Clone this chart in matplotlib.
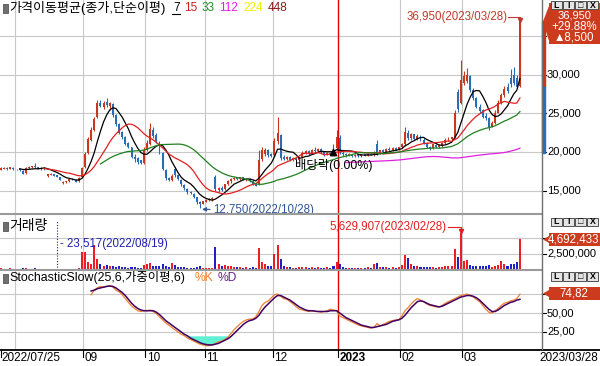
import numpy as np
import pandas as pd
import matplotlib
matplotlib.use("Agg")
import matplotlib.pyplot as plt
from matplotlib.patches import Rectangle, Polygon
from matplotlib.transforms import Affine2D, blended_transform_factory

plt.rcParams['font.family'] = ['Liberation Sans', 'Noto Sans CJK KR', 'DejaVu Sans']

# daily prices in units of 100 won, 2022/07/25 .. 2023/03/28 (168 trading days)
opens = [177, 178.5, 179.5, 178, 179.5, 177.5, 178, 175.5, 172.5, 179,
         180, 182, 180, 178.5, 179, 168.5, 170.5, 171, 169.5, 167,
         160, 160.5, 162, 165.5, 164, 162, 167, 180, 199, 216,
         229, 245, 264, 259, 265, 260, 262, 248, 236, 226,
         220, 212, 206, 194, 192, 189, 186, 203, 211, 229,
         222, 213, 199, 177, 166, 163, 178, 170, 164, 157,
         152, 148, 146, 141, 135, 133, 135.5, 137.5, 139, 167,
         151, 153, 152, 158, 162, 165, 167, 165, 167, 164,
         165, 162, 158, 158, 191, 197, 203, 197, 196, 214,
         222, 193, 191, 194, 190, 192, 190, 193, 199, 201,
         198, 203, 201, 204, 200, 197, 199, 207, 205, 218,
         199, 197, 196, 197, 195, 196, 195, 197, 195, 198,
         197, 210, 198, 202, 200, 204, 202, 205, 203, 206,
         210, 225, 218, 223, 217, 221, 216, 212, 207, 205,
         209, 206, 208, 212, 216, 217, 219, 278, 263, 290,
         292, 299, 280, 270, 258, 254, 247, 244, 233, 238,
         251, 264, 274, 285, 296, 300, 296, 286]
highs = [180, 180.5, 180, 180.5, 180, 178.5, 178.5, 176, 180.5, 181.5,
         182, 185.5, 181, 180.5, 179.5, 172, 172.5, 171.5, 170.5, 167.5,
         162, 162.5, 165.5, 166.5, 164.5, 167, 180, 200, 220, 232,
         246, 267, 267, 266, 270, 265, 263, 249, 238, 227,
         221, 213, 207, 197, 193, 190, 206, 215, 238, 232,
         225, 214, 200, 178, 168, 171, 180, 171, 165, 158,
         153, 150, 147, 142, 136, 137, 139, 140, 141, 170,
         155, 156, 159, 163, 166, 168, 168, 168, 168, 166,
         166, 163, 160, 203, 206, 205, 204, 199, 218, 245,
         224, 196, 195, 195, 193, 194, 194, 201, 203, 202,
         204, 206, 205, 205, 201, 200, 200, 210, 228, 222,
         201, 199, 199, 198, 197, 197.5, 198, 198, 199, 199,
         201, 215, 203, 204, 205, 206, 206, 206, 207, 212,
         232, 229, 225, 224, 223, 222, 218, 213, 208, 211,
         210, 209, 213, 218, 219, 220, 254, 282, 319, 305,
         309, 300, 283, 272, 262, 256, 251, 246, 240, 254,
         268, 277, 286, 290, 308, 310, 300, 369.5]
lows = [176, 177.5, 177, 177.5, 177, 176.5, 175.5, 171, 172, 178.5,
        179, 179.5, 177.5, 177, 176.5, 167.5, 169.5, 168.5, 167, 163.5,
        158.5, 159.5, 161.5, 163.5, 160.5, 161.5, 166.5, 179, 197, 214,
        227, 244, 258, 256, 259, 255, 246, 234, 223, 217,
        209, 205, 192, 187, 185, 184.5, 185, 201, 209, 218,
        212, 198, 176, 164, 162, 162, 167, 163, 156, 151,
        146, 145, 140, 133, 127.5, 132, 135, 136.5, 137, 150,
        148, 150, 151, 157, 160, 164, 164, 164, 163, 162,
        161, 157, 155.5, 157, 188, 195, 194, 193, 195, 210,
        189, 189, 189.5, 188.5, 188, 189, 189, 192, 197, 196,
        197, 200, 200, 199, 195, 195.5, 196, 203, 203, 197,
        195, 194, 194.5, 194, 194, 194, 194, 194.5, 194.5, 195.5,
        195, 196, 197, 199, 199.5, 201, 201, 202, 202, 205,
        208, 216, 216, 215, 216, 214, 211, 205, 203, 204,
        205, 205, 207, 211, 214, 215, 218, 252, 262, 287,
        290, 278, 267, 257, 251, 244, 242, 229, 232, 236,
        250, 262, 271, 276, 284, 287, 283, 284]
closes = [179, 179.5, 178, 180, 177.5, 178, 176, 172, 179.5, 180.5,
          181.5, 180, 178, 179.5, 177, 171, 171.5, 169, 167.5, 164,
          161.5, 162, 165, 164, 161.5, 166.5, 179, 198, 217, 228,
          243, 263, 260, 264, 261, 263, 248, 236, 225, 220,
          211, 207, 194, 191, 187, 186, 203, 212, 230, 221,
          214, 200, 178, 166, 164, 169, 170, 165, 158, 153,
          148, 147, 142, 135, 132, 136, 138, 139, 140, 152,
          153, 151, 158, 162, 165, 166.5, 165, 167, 164, 165,
          162, 158, 156, 190, 202, 203, 196, 195, 214, 225,
          192, 191, 194, 190, 192, 190, 193, 199, 201, 198,
          203, 201, 204, 200, 197, 199, 198, 204, 219, 199,
          197, 196, 198, 195, 196, 195, 197, 195, 198, 196,
          200, 198, 202, 200, 204, 202, 205, 203, 206, 210,
          226, 218, 223, 217, 221, 216, 212, 207, 205, 210,
          206, 208.5, 212, 216, 217, 219, 250, 256, 294, 299,
          300, 281, 270, 259, 253, 246, 244, 232, 238, 250,
          264, 274, 282, 279, 288, 290, 284.5, 369.5]
volumes = [180000, 150000, 130000, 160000, 120000, 110000, 140000, 210000, 260000, 150000,
           140000, 190000, 100000, 90000, 80000, 130000, 90000, 60000, 23517, 90000,
           120000, 80000, 100000, 70000, 110000, 190000, 2700000, 2750000, 1100000, 900000,
           3900000, 1600000, 800000, 600000, 700000, 500000, 600000, 450000, 500000, 350000,
           400000, 300000, 450000, 350000, 300000, 300000, 700000, 800000, 1000000, 600000,
           500000, 600000, 900000, 500000, 400000, 1000000, 700000, 450000, 400000, 350000,
           300000, 250000, 300000, 400000, 500000, 300000, 250000, 200000, 300000, 3500000,
           900000, 500000, 700000, 600000, 500000, 450000, 350000, 400000, 300000, 350000,
           300000, 350000, 300000, 3300000, 1200000, 900000, 600000, 500000, 2500000, 3900000,
           1600000, 500000, 400000, 350000, 300000, 300000, 350000, 450000, 400000, 300000,
           400000, 300000, 350000, 300000, 300000, 350000, 300000, 600000, 1100000, 800000,
           350000, 300000, 250000, 200000, 250000, 200000, 250000, 300000, 350000, 300000,
           900000, 1000000, 400000, 350000, 400000, 300000, 350000, 300000, 400000, 700000,
           2200000, 1800000, 800000, 500000, 600000, 400000, 350000, 400000, 350000, 400000,
           300000, 350000, 450000, 500000, 550000, 600000, 3200000, 2000000, 5629907, 1400000,
           1500000, 700000, 600000, 550000, 600000, 550000, 500000, 700000, 450000, 600000,
           700000, 1300000, 800000, 600000, 900000, 800000, 1100000, 4692433]

# StochasticSlow %K / %D, from day index 29 on
stoch_start = 29
stoch_k = [74, 80, 83, 85, 84, 85, 86, 84, 80, 78,
           74, 69, 64, 59, 56, 53, 52, 53, 53, 54,
           52, 49, 45, 41, 37, 34, 31, 28, 25, 22,
           20, 17, 15, 13, 11, 9, 8, 7, 7, 8,
           10, 12, 13, 15, 18, 23, 28, 32, 36, 39,
           41, 42, 42, 45, 52, 60, 64, 66, 70, 74,
           75, 72, 69, 68, 65, 62, 58, 55, 54, 53,
           52, 53, 52, 52, 51, 52, 53, 55, 54, 53,
           46, 44, 42, 40, 38, 36, 34, 33, 32, 31,
           30, 31, 36, 33, 35, 37, 39, 40, 41, 41,
           46, 53, 57, 62, 66, 69, 67, 65, 62, 60,
           59, 58, 58, 60, 63, 65, 67, 69, 71, 73,
           74, 75, 73, 71, 68, 65, 60, 55, 51, 50,
           53, 56, 60, 63, 64, 66, 67, 69, 74.82]
stoch_d = [79, 80, 82, 83, 84, 85, 85.5, 85, 83, 80,
           77, 73, 68, 63, 59, 56, 54, 53, 53, 53,
           53, 51, 48, 44, 40, 37, 34, 31, 28, 25,
           22, 20, 17, 15, 13, 11, 9.5, 8.5, 8, 8,
           9, 10, 12, 14, 16, 19, 23, 27, 31, 35,
           38, 40, 41, 43, 47, 53, 58, 62, 66, 70,
           73, 73, 71, 69, 67, 64, 61, 58, 56, 54,
           53, 53, 52.5, 52, 52, 52, 52, 53, 53, 53,
           50, 47, 44, 42, 40, 38, 36, 34, 33, 32,
           31, 31, 32, 33, 34, 35, 37, 39, 40, 41,
           43, 47, 52, 57, 61, 65, 66, 65, 63, 61,
           60, 59, 58, 59, 61, 63, 65, 67, 69, 71,
           72, 73, 73, 72, 70, 67, 63, 59, 55, 52,
           52, 54, 57, 60, 62, 64, 65, 67, 68]

ma_periods = [7, 15, 33, 112]
ma_colors = ['black', '#E02020', '#208020', '#E020E0']
legend_periods = [7, 15, 33, 112, 224, 448]
legend_colors = ['black', '#D02020', '#209020', '#E020E0', '#F0F000', '#8B1A1A']
month_idx = [5, 27, 47, 66, 88, 109, 129, 149]
month_labels = ['', '09', '10', '11', '12', '2023', '02', '03']
year_idx = 109
first_date, last_date = '2022/07/25', '2023/03/28'
high_date, low_date = '2023/03/28', '2022/10/28'
vmax_date, vmin_date = '2023/02/28', '2022/08/19'
ex_div_idx = 107
price_grid = [15000, 20000, 25000, 30000, 35000]
vol_grid = [2500000, 5000000]
stoch_grid = [25, 50, 75]

W, H = 600, 366
fig = plt.figure(figsize=(W / 100, H / 100), dpi=100)
pix = Affine2D().scale(1 / W, -1 / H).translate(0, 1) + fig.transFigure


def box(x0, y0, x1, y1):
    return [x0 / W, 1 - y1 / H, (x1 - x0) / W, (y1 - y0) / H]


ax_p = fig.add_axes(box(0, 0, 542, 213))
ax_v = fig.add_axes(box(0, 215, 542, 269.5))
ax_s = fig.add_axes(box(0, 271, 542, 349))
ax_d = fig.add_axes(box(0, 349, 542, 366))

x = np.arange(len(closes))
o = np.array(opens) * 100
h = np.array(highs) * 100
l = np.array(lows) * 100
c = np.array(closes) * 100
v = np.array(volumes)
up = c >= o

for ax in (ax_p, ax_v, ax_s, ax_d):
    ax.set_xlim(-0.32, 174.1)
    ax.set_xticks([])
    ax.set_yticks([])
    for sp in ax.spines.values():
        sp.set_visible(False)
ax_p.set_ylim(12078, 39740)
ax_v.set_ylim(0, 8.52e6)
ax_s.set_ylim(2.6, 105.3)
ax_d.set_ylim(17, 0)

# grid lines and the year separator
grid_c = '#C8C8C8'
for ax, levels in ((ax_p, price_grid), (ax_v, vol_grid), (ax_s, stoch_grid)):
    for lv in levels:
        ax.axhline(lv, color=grid_c, lw=0.8, zorder=0)
    for m in month_idx:
        if m != year_idx:
            ax.axvline(m - 0.5, color=grid_c, lw=0.8, zorder=0)
    ax.axvline(year_idx - 0.5, color='#E00000', lw=1, zorder=1.5)

# candles
red_c, blue_c = '#C9381E', '#2C6CB5'
cols = np.where(up, red_c, blue_c)
ax_p.vlines(x, l, h, colors=cols, lw=0.8, zorder=2)
ax_p.bar(x, np.maximum(np.abs(c - o), 60), bottom=np.minimum(o, c), width=0.62,
         color=cols, lw=0, zorder=2)

# moving averages
for n, col in zip(ma_periods, ma_colors):
    ma = pd.Series(c).rolling(n).mean()
    ax_p.plot(x, ma, color=col, lw=0.9, zorder=3)

# max / min price labels
hi_i, lo_i = int(np.argmax(h)), int(np.argmin(l))
hc = '#C0392B'
ax_p.plot([hi_i - 3.7, hi_i, hi_i], [37550, 37550, 37150], color=hc, lw=0.8, zorder=4)
ax_p.plot(hi_i, 37200, marker='v', ms=3, color=hc, zorder=4)
ax_p.text(hi_i - 3.9, 37550, f"{h[hi_i]:,.0f}({high_date})", color=hc, fontsize=8.3,
          ha='right', va='center')
lc = '#2F5597'
ax_p.annotate('', xy=(lo_i - 0.2, 12550), xytext=(lo_i + 4.2, 12550),
              arrowprops=dict(arrowstyle='-|>', color=lc, lw=0.8, mutation_scale=6),
              annotation_clip=False)
ax_p.text(lo_i + 4.4, 12450, f"{l[lo_i]:,.0f}({low_date})", color=lc, fontsize=8.3,
          ha='left', va='center', clip_on=False)

# ex-dividend marker
ax_p.annotate('', xy=(ex_div_idx, 20700), xytext=(ex_div_idx, 19150),
              arrowprops=dict(arrowstyle='simple', color='black', mutation_scale=9), zorder=5)
ax_p.text(ex_div_idx, 18300, "배당락(0.00%)", fontsize=8.9, ha='center', va='center', zorder=5)

# volume
vcols = np.where(up, '#EE1C25', '#2020C8')
ax_v.bar(x, v, width=0.65, color=vcols, lw=0, zorder=2)
vmax_i, vmin_i = int(np.argmax(v)), int(np.argmin(v))
ax_v.plot([vmax_i - 4.3, vmax_i, vmax_i], [6.65e6, 6.65e6, 6.0e6], color='#E02020', lw=0.8)
ax_v.plot(vmax_i, 6.05e6, marker='v', ms=3, color='#E02020')
ax_v.text(vmax_i - 4.5, 6.65e6, f"{v[vmax_i]:,}({vmax_date})", color='#E02020', fontsize=8.3,
          ha='right', va='center')
ax_v.plot([vmin_i, vmin_i], [0, 7.7e6], color='#2020B0', lw=0.8, ls=(0, (1, 1.5)))
ax_v.text(vmin_i + 0.9, 4.0e6, f"- {v[vmin_i]:,}({vmin_date})", color='#2020B0', fontsize=8.3,
          ha='left', va='center')

# slow stochastic (25, 6, weighted, 6)
xs = np.arange(stoch_start, stoch_start + len(stoch_k))
k = np.array(stoch_k, dtype=float)
d = np.array(stoch_d, dtype=float)
ax_s.fill_between(xs, k, 20, where=(k < 20), interpolate=True, color='#62F0D4', lw=0, zorder=1)
ax_s.plot(xs, k, color='#F08030', lw=0.9, zorder=3)
ax_s.plot(xs, d, color='#400060', lw=1.1, zorder=3)

# date strip
fig.add_artist(plt.Line2D([0, 1], [1 - 349.5 / H] * 2, color='black', lw=1.3))
for m, lab in zip(month_idx, month_labels):
    if not lab:
        continue
    ax_d.plot([m - 0.5, m - 0.5], [1, 8], color='black', lw=0.8)
    ax_d.text(m - 0.1, 8.8, lab, fontsize=8.5, va='center', ha='left',
              fontweight='bold' if m == year_idx else 'normal')
ax_d.plot([-0.1, -0.1], [1, 8], color='black', lw=0.8, clip_on=False)
ax_d.text(0.3, 8.8, first_date, fontsize=8.5, va='center', ha='left')
fig.text(598, 357.8, last_date, transform=pix, fontsize=8.5, va='center', ha='right')

# panel separators and right border
for yy in (213.5, 270.2):
    fig.add_artist(plt.Line2D([0, 542 / W], [1 - yy / H] * 2, color='#9A9A9A', lw=1.5))
fig.add_artist(plt.Line2D([542 / W] * 2, [1 - 349 / H, 1], color='#707070', lw=1))

# upper/lower price-limit bar
prev_close = c[-2]
trp = blended_transform_factory(fig.transFigure, ax_p.transData)
ax_p.add_patch(Rectangle((541.5 / W, prev_close), 3.5 / W, prev_close * 0.3, transform=trp,
                         color='#C9381E', clip_on=False, zorder=4))
ax_p.add_patch(Rectangle((541.5 / W, prev_close * 0.7), 3.5 / W, prev_close * 0.3, transform=trp,
                         color='#2C6CB5', clip_on=False, zorder=4))


def right_ticks(ax, values, labels):
    tr = blended_transform_factory(fig.transFigure, ax.transData)
    for val, lab in zip(values, labels):
        ax.plot([542 / W, 546 / W], [val, val], transform=tr, color='black', lw=0.8, clip_on=False)
        if lab:
            ax.text(547 / W, val, lab, transform=tr, fontsize=8, va='center', ha='left')


right_ticks(ax_p, [15000, 20000, 25000, 30000, 35000], ['15,000', '20,000', '25,000', '30,000', ''])
right_ticks(ax_v, vol_grid, ['2,500,000', ''])
right_ticks(ax_s, stoch_grid, ['25,00', '50,00', ''])

box_c = '#CC3B1E'


def value_box(y0, y1, ytip):
    fig.add_artist(Polygon([(543, ytip), (549, y0 + 3), (549, y0), (600, y0), (600, y1),
                            (549, y1), (549, y1 - 3)], closed=True, transform=pix,
                           facecolor=box_c, edgecolor='none'))


value_box(3, 44, 21.5)
chg = c[-1] - prev_close
fig.text(574, 16, f"{c[-1]:,.0f}", transform=pix, color='white', fontsize=8, ha='center', va='center')
fig.text(574, 27, f"+{chg / prev_close * 100:.2f}%", transform=pix, color='white', fontsize=8.3,
         ha='center', va='center')
fig.text(574, 38, f"▲{chg:,.0f}", transform=pix, color='white', fontsize=8.3, ha='center', va='center')
value_box(233, 246, 239.5)
fig.text(574, 239.5, f"{v[-1]:,}", transform=pix, color='white', fontsize=8.3, ha='center', va='center')
value_box(287, 300, 293.5)
fig.text(574, 293.5, f"{k[-1]:.2f}".replace('.', ','), transform=pix, color='white',
         fontsize=8.3, ha='center', va='center')


def buttons(y0):
    for j, ch in enumerate(['L', 'I', '□', 'X']):
        x0 = 551 + 12 * j
        fig.add_artist(Rectangle((x0, y0), 11, 8.5, transform=pix, facecolor='#E4E4E4',
                                 edgecolor='#505050', lw=0.7, zorder=5))
        fig.text(x0 + 5.5, y0 + 4.5, ch, transform=pix, ha='center', va='center', fontsize=6.3,
                 fontweight='bold', zorder=6)


for yb in (0.5, 217.5, 272):
    buttons(yb)


def header(y, label, size):
    fig.add_artist(Rectangle((2.5, y - 4.5), 5, 9, transform=pix, facecolor='#707070',
                             edgecolor='#404040', lw=0.5))
    fig.text(9, y, label, transform=pix, fontsize=size, va='center', ha='left')


header(8, "가격이동평균(종가,단순이평)", 9.4)
px0 = 173
for p, col in zip(legend_periods, legend_colors):
    fig.text(px0, 8, str(p), transform=pix, fontsize=8.5, va='center', ha='left', color=col)
    if p == legend_periods[0]:
        fig.add_artist(plt.Line2D([172 / W, 180 / W], [1 - 13.5 / H] * 2, color='black', lw=0.8))
    px0 += 6.3 * len(str(p)) + 5
header(226, "거래량", 10)
header(278, "StochasticSlow(25,6,가중이평,6)", 8.9)
fig.text(195, 278, "%K", transform=pix, fontsize=8.7, va='center', color='#F08030')
fig.text(218, 278, "%D", transform=pix, fontsize=8.7, va='center', color='#6A2090')

fig.savefig("out.png", dpi=100, facecolor='white')
